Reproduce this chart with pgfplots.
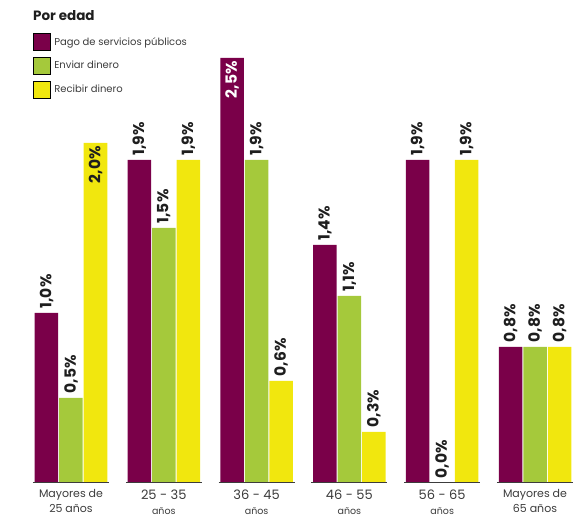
\documentclass[border=0pt]{standalone}
\usepackage{fontspec}
\setmainfont{Poppins}
\usepackage{pgfplots}
\pgfplotsset{compat=1.18}
\definecolor{purp}{HTML}{7A0049}
\definecolor{verde}{HTML}{A5C93B}
\definecolor{amar}{HTML}{F1E70E}
\definecolor{txt}{HTML}{1E1E1E}
\definecolor{lbl}{HTML}{3C3C3C}
\newcommand{\rng}[1]{{\fontsize{13}{15}\selectfont #1}}
\newcommand{\sm}[1]{{\fontsize{9.5}{15}\selectfont #1}}
\pgfplotsset{
  % #1 = bar shift, #2 = anchor, #3 = text colour, #4 = gap
  lab/.style n args={4}{ybar, bar shift=#1, draw=none, forget plot,
    nodes near coords, point meta=explicit symbolic,
    every node near coord/.style={xshift=#1, rotate=90, anchor=#2, text=#3,
      font=\fontsize{15.5}{17}\selectfont\bfseries, inner xsep=#4, inner ysep=0pt}},
}
\begin{document}
\begin{tikzpicture}
\useasboundingbox (-71pt,-44pt) rectangle (516pt,483pt);
\begin{axis}[
  at={(0pt,0pt)}, anchor=origin,
  x=92.8pt, y=170pt,
  xmin=-0.76, xmax=5.55, ymin=0, ymax=2.84,
  clip=false,
  axis x line=bottom, axis y line=none,
  x axis line style={draw=none},
  ytick=\empty, xtick={0,...,5},
  major tick length=0pt,
  xticklabels={Mayores de\\25 años, \rng{25 - 35}\\\sm{años}, \rng{36 - 45}\\\sm{años},
    \rng{46 - 55}\\\sm{años}, \rng{56 - 65}\\\sm{años}, Mayores de\\65 años},
  xticklabel style={font=\fontsize{11}{15}\selectfont, text=lbl, align=center, yshift=-3pt},
  bar width=23.5pt,
  legend image code/.code={\fill[#1] (0pt,-8.5pt) rectangle (17pt,8.5pt);},
  legend style={draw=none, fill=none, at={(0.0555,0.9317)}, anchor=north west,
    inner sep=0pt, outer sep=0pt, row sep=6.5pt, column sep=4pt,
    font=\fontsize{10}{12}\selectfont, text=lbl, nodes={inner sep=0pt}, cells={anchor=west}},
]
% bars
\addplot[lab={-24.5pt}{west}{txt}{4.5pt}, fill=purp] coordinates {
  (0,1.0)[1,0\%] (1,1.9)[1,9\%] (2,2.5)[{}] (3,1.4)[1,4\%] (4,1.9)[1,9\%] (5,0.8)[0,8\%]};
\addplot[lab={0pt}{west}{txt}{4.5pt}, fill=verde] coordinates {
  (0,0.5)[0,5\%] (1,1.5)[1,5\%] (2,1.9)[1,9\%] (3,1.1)[1,1\%] (4,0.0)[0,0\%] (5,0.8)[0,8\%]};
\addplot[lab={24.5pt}{west}{txt}{4.5pt}, fill=amar] coordinates {
  (0,2.0)[{}] (1,1.9)[1,9\%] (2,0.6)[0,6\%] (3,0.3)[0,3\%] (4,1.9)[1,9\%] (5,0.8)[0,8\%]};
% labels set inside the bar
\addplot[lab={-24.5pt}{east}{white}{3pt}, fill=none] coordinates {(2,2.5)[2,5\%]};
\addplot[lab={24.5pt}{east}{txt}{3pt}, fill=none] coordinates {(0,2.0)[2,0\%]};
% baseline under each group
\addplot[lbl, line width=1pt, forget plot, unbounded coords=jump] coordinates {
  (-0.41,0) (0.41,0) (0,nan) (0.59,0) (1.41,0) (1,nan) (1.59,0) (2.41,0) (2,nan)
  (2.59,0) (3.41,0) (3,nan) (3.59,0) (4.41,0) (4,nan) (4.59,0) (5.41,0)};
\addlegendimage{fill=purp}\addlegendentry{Pago de servicios públicos}
\addlegendimage{fill=verde}\addlegendentry{Enviar dinero}
\addlegendimage{fill=amar}\addlegendentry{Recibir dinero}
\node[anchor=west, font=\fontsize{13.5}{15}\selectfont\bfseries, text=txt, inner sep=0pt]
  at (axis description cs:0.0555,0.969) {Por edad};
\end{axis}
\end{tikzpicture}
\end{document}
